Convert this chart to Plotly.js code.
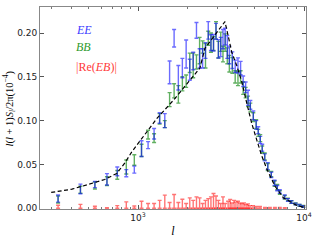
<!DOCTYPE html>
<html><head><meta charset="utf-8">
<script src="https://cdn.plot.ly/plotly-3.0.1.min.js"></script>
<style>html,body{margin:0;padding:0;background:#fff}#chart{width:320px;height:240px}</style>
</head><body><div id="chart"></div>
<script>
// Theory curve (dashed)
const lTh  = [300, 400, 550, 630, 745, 835, 915, 1030, 1300, 1630, 2060, 2360, 2530, 2910, 3340, 3500, 3670, 3930, 4210, 4520, 4840, 5190, 5560, 5960, 6690, 7510, 9040, 9990];
const thVal = [0.018, 0.0217, 0.0294, 0.0328, 0.0397, 0.052, 0.064, 0.077, 0.1025, 0.123, 0.146, 0.160, 0.1825, 0.198, 0.213, 0.196, 0.178, 0.163, 0.145, 0.120, 0.097, 0.078, 0.060, 0.045, 0.025, 0.012, 0.0032, 0.001];

// EE
const lEE  = [330, 450, 550, 650, 750, 850, 950, 1050, 1150, 1250, 1350, 1450, 1550, 1650, 1750, 1850, 1950, 2050, 2150, 2250, 2350, 2450, 2550, 2650, 2750, 2850, 2950, 3050, 3150, 3250, 3350, 3450, 3550, 3700, 3850, 4000, 4150, 4300, 4450, 4600, 4750, 4950, 5150, 5300, 5450, 5600, 5800, 6050, 6350, 6650, 6900, 7150, 7650, 8000, 8400, 8900, 9400, 9900];
const eeVal = [0.011, 0.022, 0.027, 0.033, 0.042, 0.040, 0.044, 0.068, 0.072, 0.085, 0.103, 0.100, 0.155, 0.194, 0.149, 0.160, 0.176, 0.158, 0.168, 0.203, 0.171, 0.171, 0.180, 0.203, 0.189, 0.189, 0.202, 0.182, 0.184, 0.193, 0.196, 0.184, 0.175, 0.169, 0.162, 0.163, 0.160, 0.145, 0.138, 0.126, 0.118, 0.106, 0.095, 0.089, 0.078, 0.069, 0.058, 0.048, 0.038, 0.029, 0.023, 0.019, 0.013, 0.0095, 0.0072, 0.0048, 0.0034, 0.002];
const eeErr = [0.004, 0.0055, 0.0035, 0.0065, 0.005, 0.004, 0.004, 0.009, 0.004, 0.006, 0.006, 0.008, 0.013, 0.010, 0.014, 0.011, 0.016, 0.012, 0.010, 0.009, 0.011, 0.011, 0.009, 0.010, 0.009, 0.0095, 0.009, 0.0105, 0.011, 0.011, 0.0095, 0.013, 0.010, 0.0095, 0.007, 0.0086, 0.0076, 0.006, 0.006, 0.0086, 0.005, 0.005, 0.005, 0.004, 0.004, 0.004, 0.004, 0.004, 0.003, 0.003, 0.003, 0.002, 0.002, 0.0015, 0.0015, 0.001, 0.001, 0.001];

// BB
const lBB  = [330, 450, 550, 650, 750, 850, 950, 1050, 1150, 1250, 1350, 1450, 1550, 1650, 1750, 1850, 1950, 2050, 2150, 2250, 2350, 2450, 2550, 2650, 2750, 2850, 2950, 3050, 3150, 3250, 3350, 3450, 3550, 3700, 3850, 4000, 4150, 4300, 4450, 4600, 4750, 4950, 5150, 5300, 5450, 5600, 5800, 6050, 6350, 6650, 6900, 7150, 7650, 8000, 8400, 8900, 9400, 9900];
const bbVal = [0.010, 0.021, 0.026, 0.031, 0.038, 0.047, 0.055, 0.066, 0.084, 0.080, 0.102, 0.096, 0.124, 0.134, 0.130, 0.142, 0.145, 0.166, 0.163, 0.167, 0.180, 0.184, 0.174, 0.194, 0.189, 0.188, 0.203, 0.181, 0.190, 0.176, 0.189, 0.174, 0.165, 0.163, 0.150, 0.148, 0.150, 0.137, 0.132, 0.122, 0.115, 0.104, 0.096, 0.086, 0.080, 0.067, 0.059, 0.047, 0.039, 0.028, 0.024, 0.018, 0.0125, 0.010, 0.007, 0.005, 0.0032, 0.0021];
const bbErr = [0.004, 0.004, 0.004, 0.005, 0.005, 0.008, 0.006, 0.007, 0.005, 0.005, 0.006, 0.004, 0.008, 0.008, 0.010, 0.008, 0.007, 0.011, 0.014, 0.008, 0.015, 0.007, 0.014, 0.008, 0.011, 0.008, 0.010, 0.0095, 0.011, 0.009, 0.010, 0.009, 0.0095, 0.009, 0.007, 0.008, 0.007, 0.007, 0.006, 0.006, 0.005, 0.005, 0.005, 0.004, 0.004, 0.004, 0.004, 0.004, 0.003, 0.003, 0.003, 0.002, 0.002, 0.0015, 0.0015, 0.001, 0.001, 0.001];

// |Re(EB)|
const lEB  = [330, 450, 550, 650, 750, 850, 950, 1050, 1150, 1250, 1350, 1450, 1550, 1650, 1750, 1850, 1950, 2050, 2150, 2250, 2350, 2450, 2550, 2650, 2750, 2850, 2950, 3050, 3150, 3250, 3350, 3490, 3590, 3680, 3790, 3890, 4000, 4120, 4230, 4350, 4480, 4600, 4730, 4930, 5140, 5430, 5820, 6230, 6680, 7150, 7660];
const ebVal = [0.0017, 0.0022, 0.00115, 0.0003, 0.0015, 0.0036, 0.00125, 0.004, 0.00265, 0.00265, 0.0045, 0.00745, 0.00325, 0.00785, 0.00325, 0.00515, 0.00265, 0.0059, 0.0045, 0.00645, 0.0059, 0.00265, 0.0045, 0.0055, 0.00645, 0.0084, 0.007, 0.0045, 0.00265, 0.00645, 0.00265, 0.004, 0.005, 0.003, 0.0045, 0.0035, 0.004, 0.003, 0.0025, 0.003, 0.002, 0.0025, 0.0015, 0.0015, 0.001, 0.001, 0.0005, 0.0005, 0.0005, 0.0004, 0.00025];
const ebErr = [0.0017, 0.0022, 0.00115, 0.0003, 0.0015, 0.0036, 0.00125, 0.004, 0.00265, 0.00265, 0.0045, 0.00745, 0.00325, 0.00785, 0.00325, 0.00515, 0.00265, 0.0059, 0.0045, 0.00645, 0.0059, 0.00265, 0.0045, 0.0055, 0.00645, 0.0084, 0.007, 0.0045, 0.00265, 0.00645, 0.00265, 0.004, 0.005, 0.003, 0.0045, 0.0035, 0.004, 0.003, 0.0025, 0.003, 0.002, 0.0025, 0.0015, 0.0015, 0.001, 0.001, 0.0005, 0.0005, 0.0005, 0.0004, 0.00025];

function errTrace(x, y, e, col) {
  return {x: x, y: y, type: 'scatter', mode: 'markers',
    marker: {size: 1, color: 'rgba(0,0,0,0)'},
    error_y: {type: 'data', array: e, visible: true, color: col, thickness: 1.4, width: 2},
    hoverinfo: 'skip', showlegend: false};
}

const traces = [
  errTrace(lEB, ebVal, ebErr, 'rgba(255,0,0,0.55)'),
  errTrace(lBB, bbVal, bbErr, 'rgba(0,128,0,0.62)'),
  errTrace(lEE, eeVal, eeErr, 'rgba(0,0,255,0.58)'),
  {x: lTh, y: thVal, type: 'scatter', mode: 'lines',
   line: {color: '#000', width: 1.2, dash: '4px,2.5px'}, hoverinfo: 'skip', showlegend: false}
];

const axisCommon = {showline: true, linecolor: '#888', linewidth: 1, mirror: 'ticks',
  ticks: 'inside', ticklen: 4, tickcolor: '#555', showgrid: false, zeroline: false,
  tickfont: {family: 'DejaVu Sans', size: 9, color: '#222'}};

const layout = {
  width: 320, height: 240,
  margin: {l: 40, r: 14, t: 7, b: 31},
  paper_bgcolor: '#fff', plot_bgcolor: '#fff',
  showlegend: false,
  xaxis: Object.assign({}, axisCommon, {type: 'log', range: [2.4096, 4.012],
    tickvals: [1000, 10000], ticktext: ['10<sup>3</sup>', '10<sup>4</sup>'],
    minor: {ticks: 'inside', ticklen: 2, tickcolor: '#777', dtick: 'D1'},
    title: {text: '<i>l</i>', font: {family: 'Liberation Serif', size: 12, color: '#000'}, standoff: 4}}),
  yaxis: Object.assign({}, axisCommon, {range: [-0.0009, 0.2297],
    tickvals: [0, 0.05, 0.10, 0.15, 0.20], ticktext: ['0.00', '0.05', '0.10', '0.15', '0.20']}),
  annotations: [
    {xref: 'paper', yref: 'paper', x: -0.115, y: 0.5, xanchor: 'center', yanchor: 'middle', textangle: -90, showarrow: false,
     text: '<i>l</i>(<i>l</i> + 1)<i>S<sub>l</sub></i>/2π(10<sup>−4</sup>)',
     font: {family: 'Liberation Serif', size: 10.5, color: '#000'}},
    {xref: 'paper', yref: 'paper', x: 0.128, y: 0.885, xanchor: 'left', yanchor: 'middle', showarrow: false,
     text: '<i>EE</i>', font: {family: 'Liberation Serif', size: 12, color: '#3a3aff'}},
    {xref: 'paper', yref: 'paper', x: 0.128, y: 0.80, xanchor: 'left', yanchor: 'middle', showarrow: false,
     text: '<i>BB</i>', font: {family: 'Liberation Serif', size: 12, color: '#2e9a2e'}},
    {xref: 'paper', yref: 'paper', x: 0.128, y: 0.705, xanchor: 'left', yanchor: 'middle', showarrow: false,
     text: '|Re(<i>EB</i>)|', font: {family: 'Liberation Serif', size: 12, color: '#ff3a3a'}}
  ]
};

Plotly.newPlot('chart', traces, layout, {staticPlot: true, displayModeBar: false});
</script></body></html>
